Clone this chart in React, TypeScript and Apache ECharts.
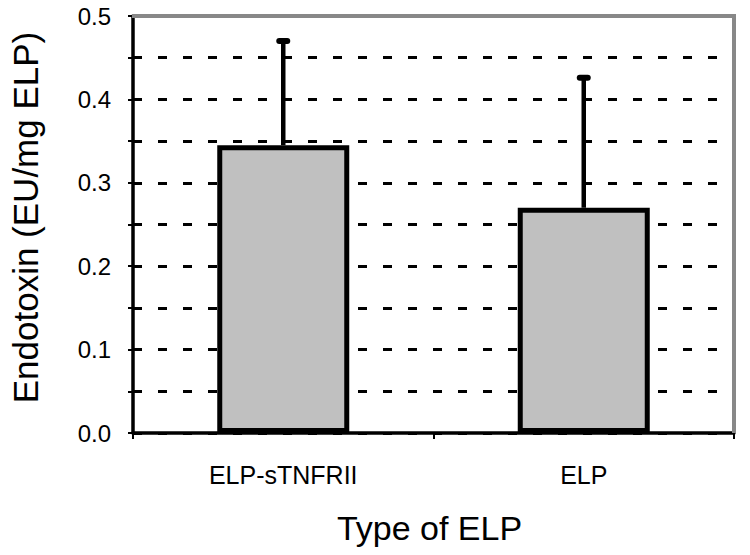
import React, { useEffect, useRef } from "react";
import * as echarts from "echarts";

const categories = ["ELP-sTNFRII", "ELP"];
const means = [0.345, 0.27];
const upperErrors = [0.47, 0.426];
const yTicks = [0, 0.1, 0.2, 0.3, 0.4, 0.5];

const GRID = { left: 132, right: 16, top: 16, bottom: 122 };

export default function App() {
  const ref = useRef<HTMLDivElement>(null);
  useEffect(() => {
    if (!ref.current) return;
    const chart = echarts.init(ref.current, undefined, { renderer: "svg" });
    const W = 750, H = 555;
    const x0 = GRID.left, x1 = W - GRID.right, y0 = GRID.top, y1 = H - GRID.bottom;
    chart.setOption({
      animation: false,
      backgroundColor: "#fff",
      textStyle: { fontFamily: "Liberation Sans, Arial, sans-serif" },
      grid: { ...GRID, containLabel: false },
      xAxis: {
        type: "category",
        data: categories,
        name: "Type of ELP",
        nameLocation: "middle",
        nameGap: 78,
        nameTextStyle: { fontSize: 34, color: "#000", padding: [0, 8, 0, 0] },
        axisLine: { lineStyle: { color: "#000", width: 3.5 } },
        axisTick: { show: true, length: 6, lineStyle: { color: "#000", width: 2 } },
        axisLabel: { fontSize: 25, color: "#000", margin: 29 },
        splitLine: { show: false },
      },
      yAxis: {
        type: "value",
        min: 0,
        max: 0.5,
        interval: 0.05,
        name: "Endotoxin (EU/mg ELP)",
        nameLocation: "middle",
        nameGap: 90,
        nameTextStyle: { fontSize: 35, color: "#000", padding: [0, 0, 0, 14] },
        axisLine: { show: true, lineStyle: { color: "#000", width: 3.5 } },
        axisTick: { show: true, length: 5, lineStyle: { color: "#000", width: 2 } },
        axisLabel: {
          fontSize: 24,
          color: "#000",
          margin: 22,
          formatter: (v: number) => {
            const hit = yTicks.find((t) => Math.abs(t - v) < 1e-6);
            return hit !== undefined ? hit.toFixed(1) : "";
          },
        },
        splitLine: {
          show: true,
          lineStyle: { color: "#000", width: 3, type: [9, 16] },
        },
      },
      graphic: [
        { type: "rect", shape: { x: x0 + 2, y: y0 - 2, width: x1 - x0, height: 3 }, style: { fill: "#fff" }, z: 90 },
        { type: "line", shape: { x1: x0, y1: y0, x2: x1, y2: y0 }, style: { stroke: "#888", lineWidth: 4 }, z: 100 },
        { type: "line", shape: { x1: x1, y1: y0 - 2, x2: x1, y2: y1 }, style: { stroke: "#888", lineWidth: 4 }, z: 100 },
      ],
      series: [
        {
          type: "bar",
          data: means,
          barWidth: 132,
          itemStyle: { color: "#c0c0c0", borderColor: "#000", borderWidth: 5 },
          z: 5,
        },
        {
          type: "custom",
          data: categories.map((_, i) => [i, means[i], upperErrors[i]]),
          z: 6,
          renderItem: (params: any, api: any) => {
            const i = api.value(0);
            const base = api.coord([i, api.value(1)]);
            const top = api.coord([i, api.value(2)]);
            return {
              type: "group",
              children: [
                {
                  type: "line",
                  shape: { x1: base[0], y1: base[1], x2: top[0], y2: top[1] },
                  style: { stroke: "#000", lineWidth: 4.5 },
                },
                {
                  type: "line",
                  shape: { x1: top[0] - 4, y1: top[1], x2: top[0] + 4, y2: top[1] },
                  style: { stroke: "#000", lineWidth: 6, lineCap: "round" },
                },
              ],
            };
          },
        },
      ],
    });
    return () => chart.dispose();
  }, []);
  return <div ref={ref} style={{ width: 750, height: 555, position: "absolute", left: 0, top: 0 }} />;
}
